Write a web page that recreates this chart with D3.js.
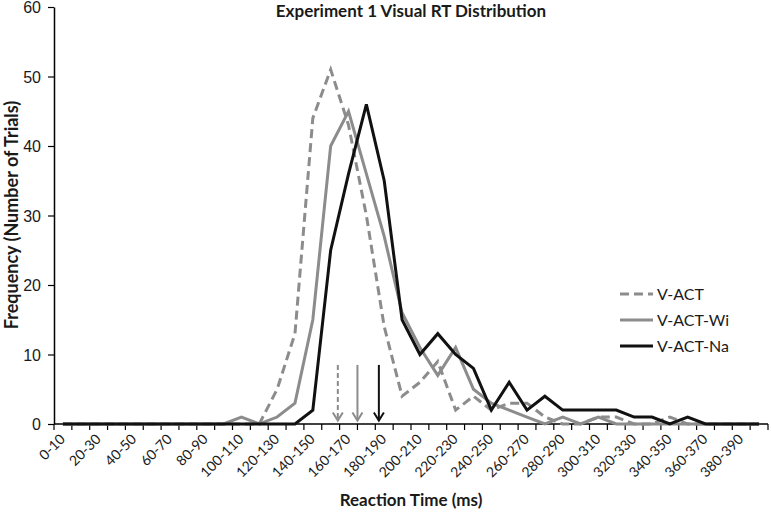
<!DOCTYPE html>
<html>
<head>
<meta charset="utf-8">
<script src="https://cdn.jsdelivr.net/npm/d3@7"></script>
<style>
  body { margin: 0; background: #fff; }
  svg { font-family: Lato, "Open Sans", sans-serif; }
</style>
</head>
<body>
<div id="chart"></div>
<script>
// bins of 10 ms, 0-10 ... 390-400
var categories = ["0-10","10-20","20-30","30-40","40-50","50-60","60-70","70-80","80-90","90-100",
  "100-110","110-120","120-130","130-140","140-150","150-160","160-170","170-180","180-190","190-200",
  "200-210","210-220","220-230","230-240","240-250","250-260","260-270","270-280","280-290","290-300",
  "300-310","310-320","320-330","330-340","340-350","350-360","360-370","370-380","380-390","390-400"];

var vAct   = [0,0,0,0,0,0,0,0,0,0, 0,0,5,13,44,51,43,30,14,4, 6,9,2,4,2,3,3,1,0,0, 1,1,0,0,1,0,0,0,0,0];
var vActWi = [0,0,0,0,0,0,0,0,0,0, 1,0,1,3,15,40,45,36,27,16, 11,7,11,5,3,2,1,0,1,0, 1,0,0,0,0,0,0,0,0,0];
var vActNa = [0,0,0,0,0,0,0,0,0,0, 0,0,0,0,2,25,36,46,35,15, 10,13,10,8,2,6,2,4,2,2, 2,2,1,1,0,1,0,0,0,0];

var seriesNames = ["V-ACT", "V-ACT-Wi", "V-ACT-Na"];
var yTicks = [0, 10, 20, 30, 40, 50, 60];

// mean RT markers (ms) for each condition
var meanRT = [159, 170, 182];

var width = 771, height = 514;
var plotLeft = 54, plotRight = 768, plotTop = 7, plotBottom = 424;

var colors = { "V-ACT": "#8c8c8c", "V-ACT-Wi": "#8c8c8c", "V-ACT-Na": "#111" };
var dashes = { "V-ACT": "9,5", "V-ACT-Wi": null, "V-ACT-Na": null };
var textColor = "#1a1a1a";

var svg = d3.select("#chart").append("svg")
    .attr("width", width)
    .attr("height", height);

var x = d3.scaleBand().domain(categories).range([plotLeft, plotRight]);
var y = d3.scaleLinear().domain([0, 60]).range([plotBottom, plotTop]);
// continuous ms scale lined up with the bins, for the mean arrows
var xms = d3.scaleLinear().domain([0, 400]).range([plotLeft, plotRight]);

// y axis
var yAxis = svg.append("g")
    .attr("transform", "translate(" + plotLeft + ",0)")
    .call(d3.axisLeft(y).tickValues(yTicks).tickSize(6).tickPadding(7).tickSizeOuter(0));
yAxis.select(".domain").attr("stroke", "#000").attr("stroke-width", 1.5);
yAxis.selectAll(".tick line").attr("stroke", "#000").attr("stroke-width", 1.2);
yAxis.selectAll(".tick text").style("font-size", "16px").attr("fill", textColor).attr("dy", "0.36em");

// x axis line + ticks at bin edges
var xg = svg.append("g");
xg.append("line")
    .attr("x1", plotLeft).attr("x2", plotRight)
    .attr("y1", y(0)).attr("y2", y(0))
    .attr("stroke", "#000").attr("stroke-width", 1.5);
var edges = categories.map(function (c) { return x(c); }).concat([plotRight]);
xg.selectAll("line.tk").data(edges).enter().append("line")
    .attr("class", "tk")
    .attr("x1", function (d) { return d; }).attr("x2", function (d) { return d; })
    .attr("y1", y(0)).attr("y2", y(0) + 6)
    .attr("stroke", "#000").attr("stroke-width", 1.2);
xg.selectAll("text").data(categories.filter(function (c, i) { return i % 2 == 0; })).enter().append("text")
    .attr("transform", function (d) {
        return "translate(" + (x(d) + x.bandwidth() / 2 + 3) + "," + (y(0) + 16) + ") rotate(-45)";
    })
    .attr("text-anchor", "end")
    .style("font-size", "14px")
    .attr("fill", textColor)
    .text(function (d) { return d; });

// lines
var line = d3.line()
    .x(function (d, i) { return x(categories[i]) + x.bandwidth() / 2; })
    .y(function (d) { return y(d); });

var seriesData = [vAct, vActWi, vActNa];
seriesNames.forEach(function (name, k) {
    svg.append("path")
        .datum(seriesData[k])
        .attr("d", line)
        .attr("fill", "none")
        .attr("stroke", colors[name])
        .attr("stroke-width", 3)
        .attr("stroke-dasharray", dashes[name])
        .attr("stroke-linejoin", "miter");
});

// mean arrows
meanRT.forEach(function (ms, k) {
    var name = seriesNames[k];
    var ax = xms(ms);
    var g = svg.append("g")
        .attr("stroke", colors[name])
        .attr("fill", "none")
        .attr("stroke-width", 2);
    g.append("line")
        .attr("x1", ax).attr("x2", ax)
        .attr("y1", y(8.5)).attr("y2", y(0.5))
        .attr("stroke-dasharray", k == 0 ? "5,3" : null);
    g.append("path")
        .attr("d", "M" + (ax - 5) + "," + (y(0.5) - 8) + "L" + ax + "," + y(0.5) + "L" + (ax + 5) + "," + (y(0.5) - 8));
});

// legend
var legend = svg.append("g").attr("transform", "translate(620,294)");
seriesNames.forEach(function (name, k) {
    var row = legend.append("g").attr("transform", "translate(0," + (k * 26) + ")");
    row.append("line")
        .attr("x1", 0).attr("x2", 33)
        .attr("stroke", colors[name])
        .attr("stroke-width", 3)
        .attr("stroke-dasharray", dashes[name]);
    row.append("text")
        .attr("x", 37).attr("y", 5.5)
        .style("font-size", "16px")
        .attr("fill", textColor)
        .text(name);
});

// titles
svg.append("text")
    .attr("x", (plotLeft + plotRight) / 2).attr("y", 17)
    .attr("text-anchor", "middle")
    .style("font-size", "17px").style("font-weight", "bold")
    .attr("fill", textColor)
    .text("Experiment 1 Visual RT Distribution");

svg.append("text")
    .attr("x", (plotLeft + plotRight) / 2).attr("y", 506)
    .attr("text-anchor", "middle")
    .style("font-size", "17px").style("font-weight", "bold")
    .attr("fill", textColor)
    .text("Reaction Time (ms)");

svg.append("text")
    .attr("transform", "translate(18,215) rotate(-90)")
    .attr("text-anchor", "middle")
    .style("font-size", "18px").style("font-weight", "bold")
    .attr("fill", textColor)
    .text("Frequency (Number of Trials)");
</script>
</body>
</html>
